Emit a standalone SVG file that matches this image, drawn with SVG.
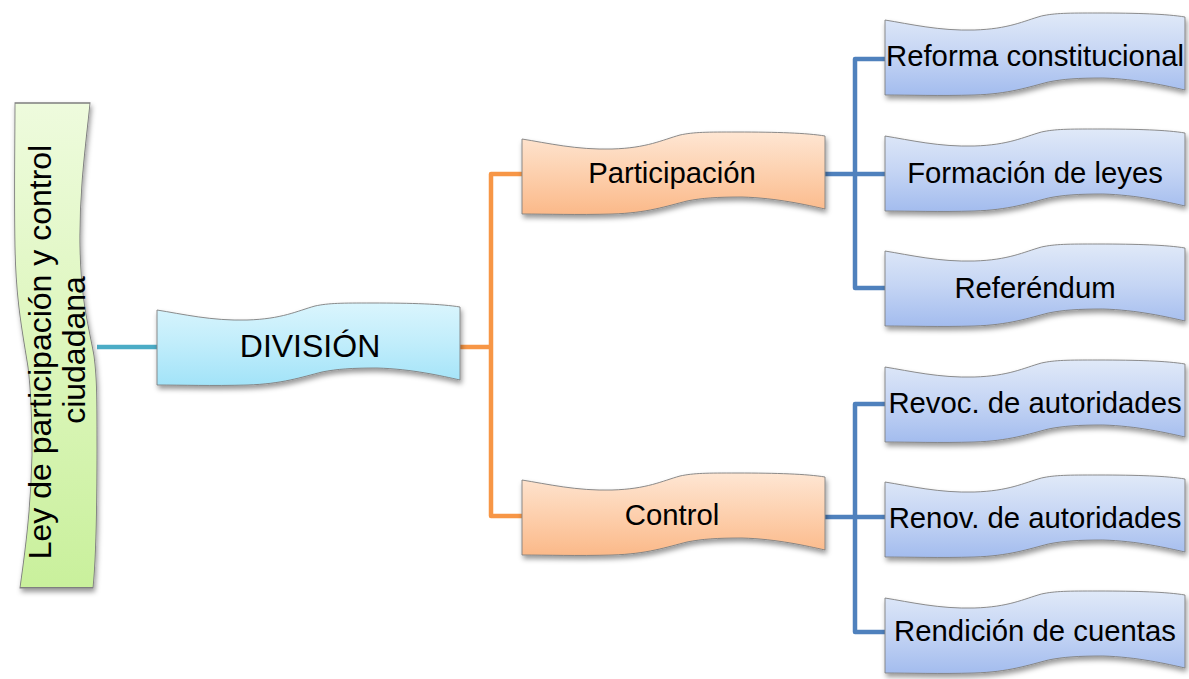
<svg xmlns="http://www.w3.org/2000/svg" xmlns:xlink="http://www.w3.org/1999/xlink" width="1189" height="679" viewBox="0 0 1189 679">
<style>
.lbl{font-family:"Liberation Sans",Arial,sans-serif;fill:#000;text-anchor:middle}
.s29{font-size:29.3px}
.s32{font-size:32px}
.shape{stroke:#7f7f7f;stroke-width:0.9;vector-effect:non-scaling-stroke}
.conn{fill:none;stroke-width:4.5;stroke-linejoin:round}
</style>
<defs>
<path id="wave" d="M0,7 C25,11 55,18 90,17 C125,16 140,8 158,3 C172,0 185,0 215,0 C255,0 285,1 303,4 L303,77 C285,73 255,66 220,65 C195,65 180,66 165,69 C145,74 125,81 90,82 C55,83 25,82 0,82 Z"/>
<linearGradient id="gBlue" x1="0" y1="0" x2="0" y2="1">
<stop offset="0" stop-color="#e0e9f8"/><stop offset="0.5" stop-color="#c5d5f4"/><stop offset="1" stop-color="#a3bcee"/>
</linearGradient>
<linearGradient id="gOrange" x1="0" y1="0" x2="0" y2="1">
<stop offset="0" stop-color="#fee6d3"/><stop offset="0.5" stop-color="#fdd0ae"/><stop offset="1" stop-color="#fbb989"/>
</linearGradient>
<linearGradient id="gCyan" x1="0" y1="0" x2="0" y2="1">
<stop offset="0" stop-color="#daf5fd"/><stop offset="0.5" stop-color="#c0edfb"/><stop offset="1" stop-color="#a2e3f8"/>
</linearGradient>
<linearGradient id="gGreen" x1="0" y1="0" x2="1" y2="0">
<stop offset="0" stop-color="#eefbdd"/><stop offset="0.5" stop-color="#ddf6bd"/><stop offset="1" stop-color="#c9f09c"/>
</linearGradient>
<filter id="sh" x="-10%" y="-10%" width="125%" height="135%">
<feDropShadow dx="1.5" dy="3.5" stdDeviation="2.5" flood-color="#000" flood-opacity="0.4"/>
</filter>
</defs>

<g id="connectors">
<path class="conn" stroke="#4bacc6" d="M97,347 H157"/>
<path class="conn" stroke="#f79646" d="M460,347 H491 M522,174 H491 V516 H522"/>
<path class="conn" stroke="#4f81bd" d="M825,174 H885 M885,59 H855 V288 H885"/>
<path class="conn" stroke="#4f81bd" d="M825,517 H885 M885,404 H855 V632 H885"/>
</g>

<g id="node-ley">
<g filter="url(#sh)"><use xlink:href="#wave" class="shape" fill="url(#gGreen)" transform="translate(97,103) rotate(90) scale(1.6,1)"/></g>
<text class="lbl s32" transform="translate(51,352) rotate(-90)">Ley de participación y control</text>
<text class="lbl s32" transform="translate(85,350) rotate(-90)">ciudadana</text>
</g>

<g id="node-division">
<g filter="url(#sh)"><use xlink:href="#wave" class="shape" fill="url(#gCyan)" transform="translate(157,303)"/></g>
<text class="lbl s32" x="310" y="357">DIVISIÓN</text>
</g>

<g id="node-participacion">
<g filter="url(#sh)"><use xlink:href="#wave" class="shape" fill="url(#gOrange)" transform="translate(522,132)"/></g>
<text class="lbl s29" x="672" y="183">Participación</text>
</g>

<g id="node-control">
<g filter="url(#sh)"><use xlink:href="#wave" class="shape" fill="url(#gOrange)" transform="translate(522,473)"/></g>
<text class="lbl s29" x="672" y="525">Control</text>
</g>

<g id="node-reforma">
<g filter="url(#sh)"><use xlink:href="#wave" class="shape" fill="url(#gBlue)" transform="translate(885,13) scale(0.99,1)"/></g>
<text class="lbl s29" x="1035" y="66">Reforma constitucional</text>
</g>

<g id="node-formacion">
<g filter="url(#sh)"><use xlink:href="#wave" class="shape" fill="url(#gBlue)" transform="translate(885,129) scale(0.99,1)"/></g>
<text class="lbl s29" x="1035" y="183">Formación de leyes</text>
</g>

<g id="node-referendum">
<g filter="url(#sh)"><use xlink:href="#wave" class="shape" fill="url(#gBlue)" transform="translate(885,244) scale(0.99,1)"/></g>
<text class="lbl s29" x="1035" y="298">Referéndum</text>
</g>

<g id="node-revoc">
<g filter="url(#sh)"><use xlink:href="#wave" class="shape" fill="url(#gBlue)" transform="translate(885,360) scale(0.99,1)"/></g>
<text class="lbl s29" x="1035" y="413">Revoc. de autoridades</text>
</g>

<g id="node-renov">
<g filter="url(#sh)"><use xlink:href="#wave" class="shape" fill="url(#gBlue)" transform="translate(885,475) scale(0.99,1)"/></g>
<text class="lbl s29" x="1035" y="528">Renov. de autoridades</text>
</g>

<g id="node-rendicion">
<g filter="url(#sh)"><use xlink:href="#wave" class="shape" fill="url(#gBlue)" transform="translate(885,591) scale(0.99,1)"/></g>
<text class="lbl s29" x="1035" y="641">Rendición de cuentas</text>
</g>
</svg>
